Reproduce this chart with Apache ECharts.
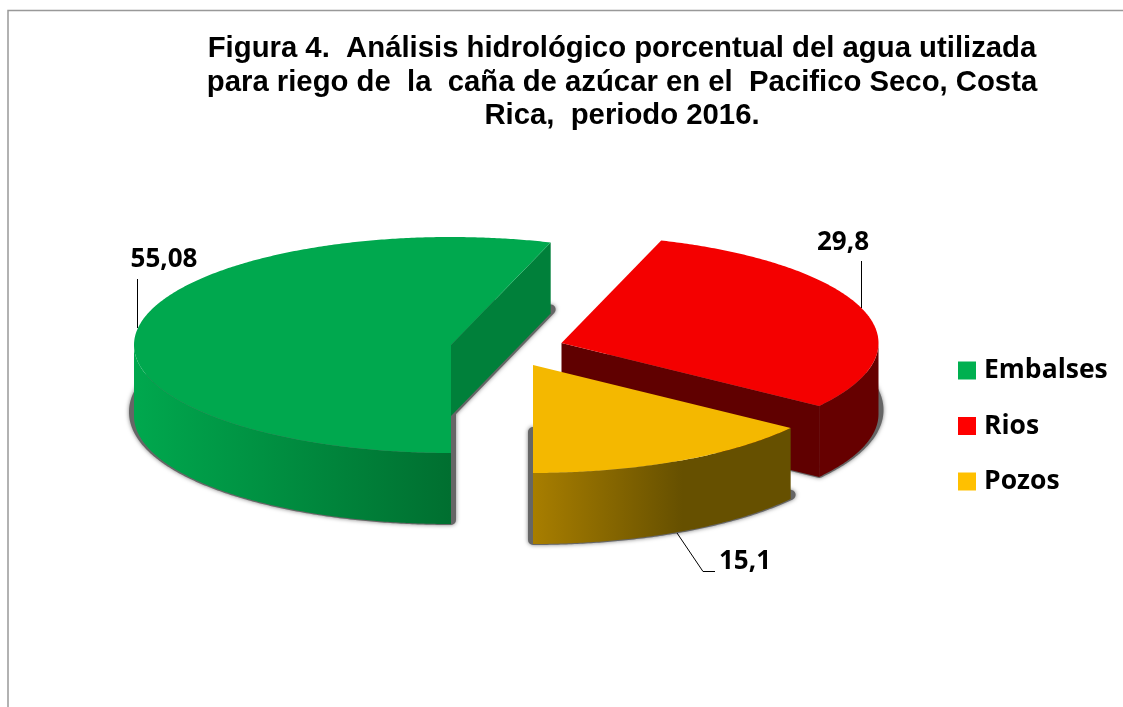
<!DOCTYPE html>
<html>
<head>
<meta charset="utf-8">
<style>
  html, body { margin: 0; padding: 0; background: #fff; }
  #main { width: 1123px; height: 707px; }
</style>
<script src="https://cdn.jsdelivr.net/npm/echarts@6/dist/echarts.min.js"></script>
</head>
<body>
<div id="main"></div>
<script>
const categories = ['Embalses', 'Rios', 'Pozos']
const values = [55.08, 29.8, 15.1]
const valueLabels = ['55,08', '29,8', '15,1']

const titleText = 'Figura 4.  Análisis hidrológico porcentual del agua utilizada\n' +
  'para riego de  la  caña de azúcar en el  Pacifico Seco, Costa\n' +
  'Rica,  periodo 2016.'

// look of the fake 3d pie
const rx = 317
const ry = 108
const depth = 71
const labelFont = 'bold 26px "Open Sans", sans-serif'
const legendColors = ['#00B050', '#FF0000', '#FFC000']
const topColors = ['#00A84E', '#F40000', '#F4B800']
const sideColors = [
  ['#00A84E', '#006F30'],
  ['#660000', '#660000'],
  ['#A87E00', '#665000']
]
// where the wall gradient reaches its dark colour
const sideStops = [1, 1, 0.58]
const faceColors = ['#00803A', '#600000', '#665000']
// apex of each exploded slice
const apexes = [[451, 345], [561.5, 343], [533, 365]]
const labelPos = [[164, 260], [843, 243], [745, 562]]
const leaders = [
  [[137.5, 279], [137.5, 328]],
  [[861.5, 261], [861.5, 308]],
  [[677, 533], [703, 571.5], [715, 571.5]]
]

const total = values.reduce((a, b) => a + b, 0)

const arcPoints = (cx, cy, from, to) => {
  const pts = []
  const n = Math.max(2, Math.ceil(Math.abs(to - from) / (Math.PI / 360)))
  for (let i = 0; i <= n; i++) {
    const t = from + (to - from) * i / n
    pts.push([cx + rx * Math.sin(t), cy - ry * Math.cos(t)])
  }
  return pts
}

const sliceRender = (index) => (params, api) => {
  const before = values.slice(0, index).reduce((a, b) => a + b, 0)
  // first slice starts at the bottom, going clockwise
  const start = Math.PI + before / total * Math.PI * 2
  const end = start + api.value(0) / total * Math.PI * 2
  const [cx, cy] = apexes[index]
  const children = []

  // shadow under the slice
  const shadowY = cy + depth - 4
  children.push({
    type: 'polygon',
    shape: { points: [[cx, shadowY]].concat(arcPoints(cx, shadowY, start, end)) },
    style: {
      fill: '#666',
      stroke: '#666',
      lineWidth: 10,
      lineJoin: 'round',
      shadowBlur: 4,
      shadowColor: 'rgba(0,0,0,0.5)'
    }
  })

  // cut face, only when it looks to the front
  if (Math.sin(end) > 1e-6) {
    const p = arcPoints(cx, cy, end, end)[0]
    children.push({
      type: 'polygon',
      shape: { points: [[cx, cy], p, [p[0], p[1] + depth], [cx, cy + depth]] },
      style: { fill: faceColors[index] }
    })
  }

  // outer wall, front half of the ellipse only
  const wallRanges = []
  if (start < Math.PI * 1.5) wallRanges.push([Math.max(start, Math.PI / 2), Math.min(end, Math.PI * 1.5)])
  if (end > Math.PI * 2.5) wallRanges.push([Math.max(start, Math.PI * 2.5), Math.min(end, Math.PI * 3.5)])
  wallRanges.forEach(r => {
    const upper = arcPoints(cx, cy, r[0], r[1])
    const lower = upper.slice().reverse().map(p => [p[0], p[1] + depth])
    const c = sideColors[index]
    children.push({
      type: 'polygon',
      shape: { points: upper.concat(lower) },
      style: {
        fill: new echarts.graphic.LinearGradient(0, 0, 1, 0, [
          { offset: 0, color: c[0] },
          { offset: sideStops[index], color: c[1] },
          { offset: 1, color: c[1] }
        ])
      }
    })
  })

  // top of the slice
  children.push({
    type: 'polygon',
    shape: { points: [[cx, cy]].concat(arcPoints(cx, cy, start, end)) },
    style: { fill: topColors[index] }
  })

  children.push({
    type: 'polyline',
    shape: { points: leaders[index] },
    style: { stroke: '#000', lineWidth: 1, fill: null }
  })
  children.push({
    type: 'text',
    style: {
      text: valueLabels[index],
      x: labelPos[index][0],
      y: labelPos[index][1],
      font: labelFont,
      fill: '#000',
      align: 'center',
      verticalAlign: 'middle'
    }
  })
  return { type: 'group', children }
}

const myChart = echarts.init(document.getElementById('main'))
myChart.setOption({
  animation: false,
  backgroundColor: '#fff',
  title: {
    text: titleText,
    left: 617,
    top: 27.5,
    textAlign: 'center',
    textStyle: {
      fontFamily: '"Liberation Sans", Arial, sans-serif',
      fontWeight: 'bold',
      fontSize: 29.3,
      lineHeight: 33.5,
      color: '#000'
    }
  },
  legend: {
    orient: 'vertical',
    left: 958,
    top: 357,
    padding: 0,
    itemWidth: 18,
    itemHeight: 18,
    itemGap: 28.5,
    icon: 'rect',
    data: categories,
    selectedMode: false,
    textStyle: {
      fontFamily: '"Open Sans", sans-serif',
      fontWeight: 'bold',
      fontSize: 26.5,
      lineHeight: 18,
      color: '#000',
      padding: [0, 0, 0, 3]
    }
  },
  graphic: [
    {
      type: 'polyline',
      silent: true,
      shape: { points: [[8, 707], [8, 10.5], [1123, 10.5]] },
      style: { stroke: '#999', lineWidth: 1.5, fill: null }
    }
  ],
  series: categories.map((name, i) => ({
    type: 'custom',
    name,
    coordinateSystem: 'none',
    silent: true,
    itemStyle: { color: legendColors[i] },
    renderItem: sliceRender(i),
    data: [[values[i]]]
  }))
})
</script>
</body>
</html>
